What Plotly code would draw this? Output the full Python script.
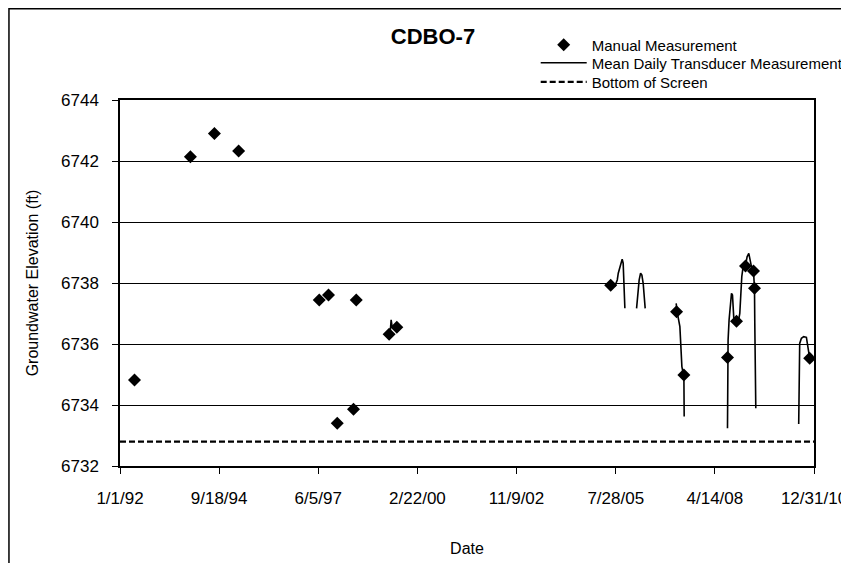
import plotly.graph_objects as go

# ---- Data ----
manual_dates = ["1992-05-25", "1993-12-05", "1994-08-02", "1995-04-01",
                "1997-06-15", "1997-09-16", "1997-12-12", "1998-05-24", "1998-06-20",
                "1999-05-15", "1999-07-31",
                "2005-06-07", "2007-03-28", "2007-06-09",
                "2008-08-18", "2008-11-16", "2009-02-14", "2009-05-05", "2009-05-15",
                "2010-11-18"]
manual_values = [6734.82, 6742.14, 6742.90, 6742.33,
                 6737.44, 6737.61, 6733.40, 6733.86, 6737.44,
                 6736.32, 6736.55,
                 6737.93, 6737.06, 6734.98,
                 6735.56, 6736.75, 6738.56, 6738.39, 6737.83,
                 6735.53]

seg1999_dates = ["1999-05-25", "1999-06-04", "1999-06-14"]
seg1999_values = [6736.36, 6736.79, 6736.56]

seg2005_dates = ["2005-07-17", "2005-08-12", "2005-08-22", "2005-09-01", "2005-09-14",
                 "2005-09-30", "2005-10-10", "2005-10-17", "2005-10-20", "2005-10-27"]
seg2005_values = [6737.88, 6738.10, 6738.32, 6738.45, 6738.65,
                  6738.78, 6738.65, 6738.21, 6737.66, 6737.17]

seg2006_dates = ["2006-02-21", "2006-02-27", "2006-03-06", "2006-03-19", "2006-04-02",
                 "2006-04-15", "2006-04-28", "2006-05-08", "2006-05-18"]
seg2006_values = [6737.17, 6737.44, 6737.77, 6738.10, 6738.32,
                  6738.26, 6737.99, 6737.44, 6737.17]

seg2007_dates = ["2007-03-24", "2007-04-02", "2007-04-30", "2007-05-10", "2007-05-20",
                 "2007-06-02", "2007-06-09", "2007-06-12"]
seg2007_values = [6737.33, 6737.06, 6736.57, 6735.80, 6735.26,
                  6735.04, 6734.98, 6733.62]

seg2008_dates = ["2008-08-18", "2008-08-19", "2008-08-24", "2008-09-03", "2008-09-17",
                 "2008-09-27", "2008-10-07", "2008-10-13", "2008-10-20", "2008-11-09",
                 "2008-12-02", "2008-12-19", "2008-12-29", "2009-01-08", "2009-01-21",
                 "2009-02-14", "2009-03-02", "2009-03-19", "2009-03-29", "2009-04-15",
                 "2009-05-05", "2009-05-11", "2009-05-15", "2009-05-18", "2009-05-25",
                 "2009-05-28"]
seg2008_values = [6733.24, 6735.56, 6736.13, 6736.79, 6737.22,
                  6737.66, 6737.61, 6737.22, 6736.84, 6736.79,
                  6736.68, 6737.00, 6737.66, 6738.21, 6738.53,
                  6738.56, 6738.86, 6738.97, 6738.81, 6738.53,
                  6738.39, 6738.10, 6737.83, 6736.68, 6735.37,
                  6733.89]

seg2010_dates = ["2010-07-31", "2010-08-03", "2010-08-10", "2010-08-27", "2010-09-19",
                 "2010-10-16", "2010-10-26", "2010-11-08", "2010-11-18"]
seg2010_values = [6733.38, 6735.80, 6736.02, 6736.19, 6736.24,
                  6736.22, 6736.02, 6735.70, 6735.53]

screen_dates = ["1992-01-01", "2010-12-31"]
screen_values = [6732.80, 6732.80]

tick_dates = ["1992-01-01", "1994-09-18", "1997-06-05", "2000-02-22",
              "2002-11-09", "2005-07-28", "2008-04-14", "2010-12-31"]
tick_labels = ["1/1/92", "9/18/94", "6/5/97", "2/22/00",
               "11/9/02", "7/28/05", "4/14/08", "12/31/10"]
y_ticks = [6732, 6734, 6736, 6738, 6740, 6742, 6744]

# ---- Build transducer series with gaps ----
trans_x, trans_y = [], []
for d, v in [(seg1999_dates, seg1999_values), (seg2005_dates, seg2005_values),
             (seg2006_dates, seg2006_values), (seg2007_dates, seg2007_values),
             (seg2008_dates, seg2008_values), (seg2010_dates, seg2010_values)]:
    trans_x += d + [None]
    trans_y += v + [None]

FONT = "Liberation Sans, Arial, sans-serif"

fig = go.Figure()
fig.add_trace(go.Scatter(x=manual_dates, y=manual_values, mode="markers",
                         name="Manual Measurement", legend="legend",
                         marker=dict(symbol="diamond", size=10, color="black")))
fig.add_trace(go.Scatter(x=trans_x, y=trans_y, mode="lines",
                         name="Mean Daily Transducer Measurement", legend="legend2",
                         connectgaps=False,
                         line=dict(color="black", width=1.6)))
fig.add_trace(go.Scatter(x=screen_dates, y=screen_values, mode="lines",
                         name="Bottom of Screen", legend="legend3",
                         line=dict(color="black", width=2.2, dash="6px,3px")))

leg_common = dict(x=0.599, xanchor="left", yanchor="middle",
                  font=dict(size=15, family=FONT, color="black"), itemwidth=46,
                  bgcolor="rgba(0,0,0,0)")

fig.update_layout(
    width=841, height=555,
    paper_bgcolor="white", plot_bgcolor="white",
    margin=dict(l=112, r=35, t=92, b=97, autoexpand=False),
    font=dict(family=FONT, color="black", size=16),
    title=dict(text="<b>CDBO-7</b>", x=0.451, xanchor="center", xref="paper",
               y=1 - 28 / 555, yanchor="middle", yref="container",
               font=dict(size=22, family=FONT, color="black")),
    legend=dict(y=1.150, **leg_common),
    legend2=dict(y=1.101, **leg_common),
    legend3=dict(y=1.049, **leg_common),
    showlegend=True,
    xaxis=dict(type="date", range=["1992-01-01", "2010-12-31"],
               tickvals=tick_dates, ticktext=tick_labels,
               showgrid=False, showline=True, linecolor="black", linewidth=1.5,
               mirror=True, ticks="outside", ticklen=6, tickcolor="black",
               tickfont=dict(size=17), ticklabelstandoff=10,
               title=dict(text="Date", font=dict(size=16), standoff=36),
               zeroline=False),
    yaxis=dict(range=[6732, 6744], tickvals=y_ticks,
               showgrid=True, gridcolor="black", gridwidth=1,
               showline=True, linecolor="black", linewidth=1.5, mirror=True,
               ticks="outside", ticklen=6, tickcolor="black",
               tickfont=dict(size=17), ticklabelstandoff=10,
               title=dict(text="Groundwater Elevation (ft)", font=dict(size=16), standoff=18),
               zeroline=False),
    shapes=[dict(type="rect", xref="paper", yref="paper",
                 x0=-0.160, x1=1.2, y0=-0.35, y1=1.2495,
                 line=dict(color="black", width=1.5), fillcolor="rgba(0,0,0,0)",
                 layer="below")],
)

fig.write_html("out.html")
